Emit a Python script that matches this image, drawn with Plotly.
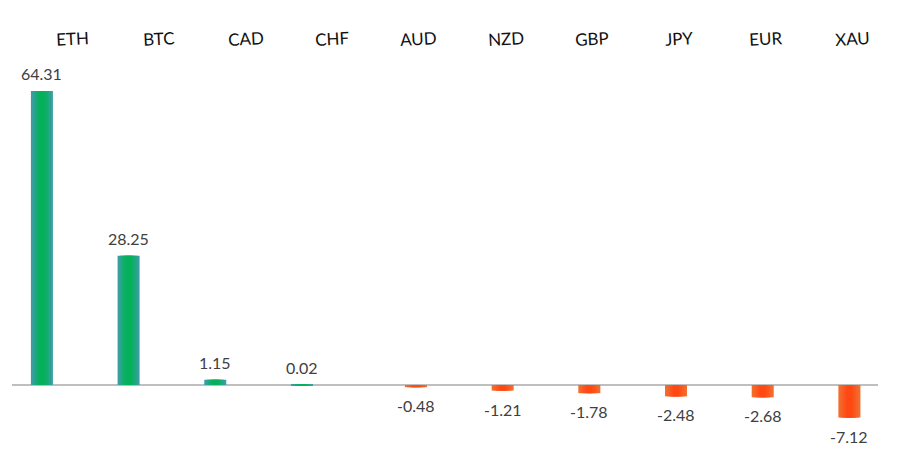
import plotly.graph_objects as go

categories = ["ETH", "BTC", "CAD", "CHF", "AUD", "NZD", "GBP", "JPY", "EUR", "XAU"]
values = [64.31, 28.25, 1.15, 0.02, -0.48, -1.21, -1.78, -2.48, -2.68, -7.12]
value_labels = ["64.31", "28.25", "1.15", "0.02", "-0.48", "-1.21", "-1.78", "-2.48", "-2.68", "-7.12"]

# styling
BAR_W = 0.254
SHIFT = [0.315, 0.315, 0.315, 0.315, 0, 0, 0, 0, 0, 0]  # left shift of first group (axis units)
POS_LAYERS = ["#38A0A2", "#28A58A", "#18AA74", "#0CAE64", "#04B15A"]
NEG_LAYERS = ["#F46C2C", "#F76226", "#FA5820", "#FD4F18", "#FF4812"]
LAYER_FRAC = [1.0, 0.8, 0.6, 0.42, 0.25]

fig = go.Figure()
for i, frac in enumerate(LAYER_FRAC):
    w = BAR_W * frac
    colors = [POS_LAYERS[i] if v >= 0 else NEG_LAYERS[i] for v in values]
    fig.add_trace(go.Bar(
        x=categories, y=values,
        width=[w] * len(values),
        offset=[-w / 2 - s for s in SHIFT],
        marker=dict(color=colors, line=dict(width=0)),
        hoverinfo="skip", showlegend=False,
    ))

PX_PER_UNIT = 86.7
annotations = []
for c, v, t, s in zip(categories, values, value_labels, SHIFT):
    annotations.append(dict(
        x=c, y=v, xref="x", yref="y", text=t, showarrow=False,
        xshift=-s * PX_PER_UNIT, yshift=17 if v >= 0 else -18.5,
        yanchor="middle",
        font=dict(family="Lato", size=16, color="#404040"),
    ))
for c in categories:
    annotations.append(dict(
        x=c, y=1, xref="x", yref="paper", yshift=-38, yanchor="middle",
        text=c, showarrow=False, xshift=3, textangle=-3,
        font=dict(family="Lato", size=17, color="#111111"),
    ))

fig.update_layout(
    width=908, height=476,
    margin=dict(l=12, r=30, t=0, b=0),
    paper_bgcolor="white", plot_bgcolor="white",
    barmode="overlay",
    xaxis=dict(range=[-0.66, 9.33], showticklabels=False, showgrid=False,
               zeroline=False, showline=False, ticks=""),
    yaxis=dict(range=[-19.9, 84.2], showticklabels=False, showgrid=False,
               zeroline=True, zerolinecolor="#BFBFBF", zerolinewidth=2,
               showline=False, ticks="", layer="above traces"),
    annotations=annotations,
)

fig.write_html("out.html", config={"displayModeBar": False},
               post_script="document.body.style.margin='0';")
